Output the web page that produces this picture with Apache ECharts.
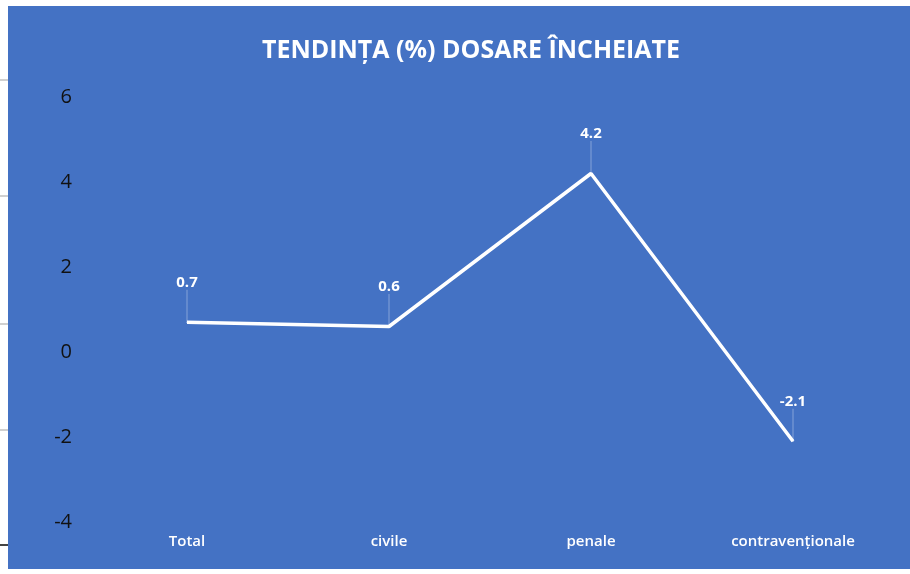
<!DOCTYPE html>
<html>
<head>
<meta charset="utf-8">
<script src="https://cdn.jsdelivr.net/npm/echarts@6/dist/echarts.min.js"></script>
<style>
  html, body { margin: 0; padding: 0; background: #fff; }
  #trendChart { width: 910px; height: 574px; }
</style>
</head>
<body>
<div id="trendChart"></div>
<script>
const categories = ['Total', 'civile', 'penale', 'contravenționale']
const trendValues = [0.7, 0.6, 4.2, -2.1]
const yTicks = { min: -4, max: 6, interval: 2 }

let myChart = echarts.init(document.getElementById('trendChart'))

let option = {
  backgroundColor: '#fff',
  animation: false,
  graphic: [
    // blue chart area, the white strip at left is part of the original screenshot
    { type: 'rect', z: -10, shape: { x: 8, y: 6, width: 902, height: 563 }, style: { fill: '#4472C4' } },
    { type: 'rect', shape: { x: 0, y: 79, width: 8, height: 2 }, style: { fill: '#d0d0d0' } },
    { type: 'rect', shape: { x: 0, y: 195, width: 8, height: 2 }, style: { fill: '#d0d0d0' } },
    { type: 'rect', shape: { x: 0, y: 323, width: 8, height: 2 }, style: { fill: '#d0d0d0' } },
    { type: 'rect', shape: { x: 0, y: 429, width: 8, height: 2 }, style: { fill: '#d0d0d0' } },
    { type: 'rect', shape: { x: 0, y: 544, width: 8, height: 2 }, style: { fill: '#444' } },
  ],
  title: {
    text: 'TENDINȚA (%) DOSARE ÎNCHEIATE',
    left: 466,
    top: 33,
    textAlign: 'center',
    textStyle: { color: '#fff', fontFamily: 'Open Sans', fontWeight: 'bold', fontSize: 25 },
  },
  grid: { left: 86, right: 16, top: 97, bottom: 52 },
  xAxis: {
    type: 'category',
    data: categories,
    boundaryGap: true,
    axisLine: { show: false },
    axisTick: { show: false },
    splitLine: { show: false },
    axisLabel: {
      color: '#fff',
      fontFamily: 'Open Sans',
      fontWeight: 600,
      fontSize: 15,
      margin: 12,
    },
  },
  yAxis: {
    type: 'value',
    min: yTicks.min,
    max: yTicks.max,
    interval: yTicks.interval,
    axisLine: { show: false },
    axisTick: { show: false },
    splitLine: { show: false },
    axisLabel: {
      color: '#111',
      fontFamily: 'Open Sans',
      fontSize: 20,
      margin: 14,
    },
  },
  series: [
    {
      name: 'Tendinta',
      type: 'line',
      data: trendValues,
      symbol: 'circle',
      symbolSize: 1,
      itemStyle: { color: '#fff' },
      lineStyle: { color: '#fff', width: 3.5 },
      label: {
        show: true,
        position: 'top',
        distance: 0,
        color: '#fff',
        fontFamily: 'Open Sans',
        fontWeight: 'bold',
        fontSize: 15,
      },
      labelLayout: { dy: -32 },
      labelLine: {
        show: true,
        lineStyle: { color: 'rgba(255,255,255,0.35)', width: 1 },
      },
    },
  ],
}

myChart.setOption(option)
</script>
</body>
</html>
